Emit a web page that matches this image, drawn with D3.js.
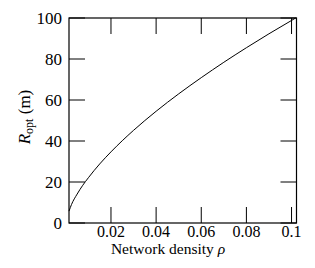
<!DOCTYPE html>
<html><head><meta charset="utf-8">
<script src="https://cdn.jsdelivr.net/npm/d3@7"></script>
<style>body{margin:0;background:#fff}svg{display:block}</style>
</head><body>
<script>
const density = [0.0014,0.0025,0.005,0.0075,0.01,0.015,0.02,0.03,0.04,0.05,0.06,0.07,0.08,0.09,0.1,0.1018];
const rOpt    = [5.8,9.0,14.1,18.4,22.1,28.8,34.7,45.2,54.5,63.0,70.9,78.4,85.5,92.3,98.8,100];
const xTicks = [0.02,0.04,0.06,0.08,0.1];
const xTickLabels = ["0.02","0.04","0.06","0.08","0.1"];
const yTicks = [0,20,40,60,80,100];

const FONT="'Liberation Serif', Tinos, 'Times New Roman', 'DejaVu Serif', serif";
const W=315,H=268;
const m={l:69,r:296.5,t:18,b:223};
const svg=d3.select("body").append("svg").attr("width",W).attr("height",H)
  .attr("font-family",FONT);
const x=d3.scaleLinear().domain([0.0014,0.1022]).range([m.l,m.r]);
const y=d3.scaleLinear().domain([0,100]).range([m.b,m.t]);
const T=16;
const g=svg.append("g");
xTicks.forEach(v=>{
  g.append("line").attr("x1",x(v)).attr("x2",x(v)).attr("y1",m.b).attr("y2",m.b-T).attr("stroke","#000").attr("stroke-width",1);
  g.append("line").attr("x1",x(v)).attr("x2",x(v)).attr("y1",m.t).attr("y2",m.t+T).attr("stroke","#000").attr("stroke-width",1);
});
yTicks.forEach(v=>{
  g.append("line").attr("x1",m.l).attr("x2",m.l+T).attr("y1",y(v)).attr("y2",y(v)).attr("stroke","#000").attr("stroke-width",1);
  g.append("line").attr("x1",m.r).attr("x2",m.r-T).attr("y1",y(v)).attr("y2",y(v)).attr("stroke","#000").attr("stroke-width",1);
});
g.append("rect").attr("x",m.l).attr("y",m.t).attr("width",m.r-m.l).attr("height",m.b-m.t).attr("fill","none").attr("stroke","#000").attr("stroke-width",1.2);
xTicks.forEach((v,i)=>{
  g.append("text").attr("x",x(v)).attr("y",236.8).attr("text-anchor","middle").attr("font-family",FONT).attr("font-size",16).text(xTickLabels[i]);
});
yTicks.forEach(v=>{
  g.append("text").attr("x",62).attr("y",y(v)+5.8).attr("text-anchor","end").attr("font-family",FONT).attr("font-size",17).text(v);
});
const pts=density.map((d,i)=>[d,rOpt[i]]);
svg.append("path").datum(pts).attr("d",d3.line().x(d=>x(d[0])).y(d=>y(d[1])).curve(d3.curveMonotoneX))
  .attr("fill","none").attr("stroke","#000").attr("stroke-width",1);
const xl=svg.append("text").attr("x",168).attr("y",254).attr("text-anchor","middle").attr("font-family",FONT).attr("font-size",15.5);
xl.append("tspan").text("Network density ");
xl.append("tspan").attr("font-style","italic").text("ρ");
const yl=svg.append("text").attr("transform","translate(30,117) rotate(-90)").attr("text-anchor","middle").attr("font-family",FONT).attr("font-size",17);
yl.append("tspan").attr("font-style","italic").text("R");
yl.append("tspan").attr("font-size",12).attr("dy",3).text("opt");
yl.append("tspan").attr("dy",-3).text(" (m)");
</script>
</body></html>
